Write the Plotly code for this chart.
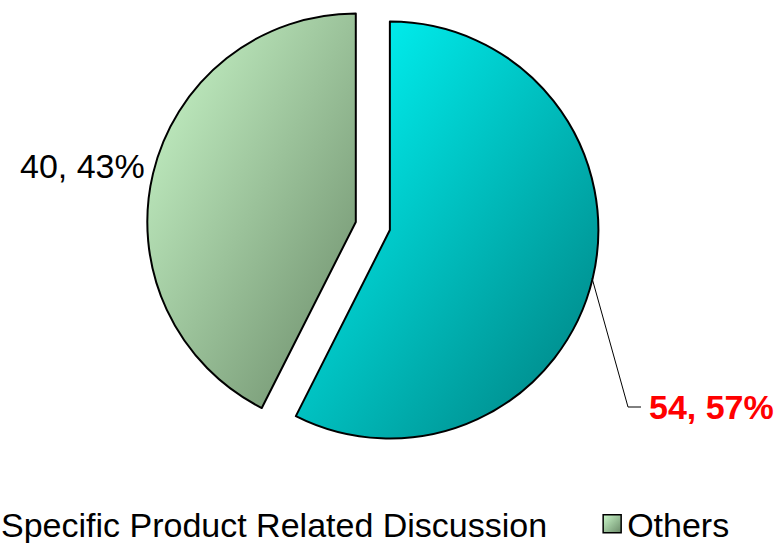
import plotly.graph_objects as go

# ---- data ----
labels = ["Specific Product Related Discussion", "Others"]
values = [54, 40]
slice_colors = ["#00C4C4", "#9CC49A"]          # solid fallbacks
grad_start = ["#00FFFF", "#CCFACC"]
grad_end = ["#007E7E", "#6A8A68"]
label_colors = ["#FF0000", "#000000"]
label_bold = [True, False]

total = sum(values)
pcts = [round(100 * v / total) for v in values]
label_texts = [f"{v}, {p}%" for v, p in zip(values, pcts)]

# ---- layout constants ----
W, H = 780, 543
MB = 60
GH = H - MB
FONT = "Liberation Sans, Arial, sans-serif"


def px(x):
    return x / W


def py(y):
    return 1 - y / GH


fig = go.Figure(
    go.Pie(
        labels=labels,
        values=values,
        sort=False,
        direction="clockwise",
        rotation=0,
        pull=[0.084, 0.084],
        marker=dict(colors=slice_colors, line=dict(color="#000000", width=2)),
        textinfo="none",
        hoverinfo="label+value+percent",
        domain=dict(x=[0.178, 0.778], y=[1 - 452 / GH, 1]),
    )
)

annotations = [
    dict(
        text=f"<b>{label_texts[0]}</b>" if label_bold[0] else label_texts[0],
        x=px(647), y=py(407), xref="paper", yref="paper",
        xanchor="left", yanchor="middle", showarrow=False,
        font=dict(family=FONT, size=34, color=label_colors[0]),
    ),
    dict(
        text=f"<b>{label_texts[1]}</b>" if label_bold[1] else label_texts[1],
        x=px(147), y=py(166), xref="paper", yref="paper",
        xanchor="right", yanchor="middle", showarrow=False,
        font=dict(family=FONT, size=34, color=label_colors[1]),
    ),
]

leader = dict(
    type="path", xref="paper", yref="paper",
    path=f"M {px(592)},{py(278)} L {px(628)},{py(407)} L {px(641)},{py(407)}",
    line=dict(color="#000000", width=1),
)

fig.update_layout(
    width=W,
    height=H,
    margin=dict(l=0, r=0, t=0, b=MB, autoexpand=False),
    paper_bgcolor="#FFFFFF",
    plot_bgcolor="#FFFFFF",
    font=dict(family=FONT, size=34, color="#000000"),
    showlegend=True,
    legend=dict(
        orientation="h",
        x=-39 / W, xanchor="left",
        y=-0.025, yanchor="top",
        font=dict(family=FONT, size=34, color="#000000"),
        bgcolor="rgba(0,0,0,0)",
        itemwidth=30,
    ),
    annotations=annotations,
    shapes=[leader],
)

post_js = """
var gd = document.getElementById('{plot_id}');
var NS = 'http://www.w3.org/2000/svg';
var svg = gd.querySelector('svg.main-svg');
var defs = svg.querySelector('defs');
if(!defs){ defs = document.createElementNS(NS, 'defs'); svg.insertBefore(defs, svg.firstChild); }
var starts = %s, ends = %s;
var ids = [];
for (var k = 0; k < starts.length; k++) {
  var g = document.createElementNS(NS, 'linearGradient');
  var id = 'slicegrad' + k;
  g.setAttribute('id', id);
  g.setAttribute('x1', '0'); g.setAttribute('y1', '0');
  g.setAttribute('x2', '1'); g.setAttribute('y2', '1');
  var s0 = document.createElementNS(NS, 'stop');
  s0.setAttribute('offset', '0'); s0.setAttribute('stop-color', starts[k]);
  var s1 = document.createElementNS(NS, 'stop');
  s1.setAttribute('offset', '1'); s1.setAttribute('stop-color', ends[k]);
  g.appendChild(s0); g.appendChild(s1);
  defs.appendChild(g);
  ids.push(id);
}
gd.querySelectorAll('g.slice path.surface').forEach(function(p, i){
  if (ids[i]) p.style.fill = 'url(#' + ids[i] + ')';
});
gd.querySelectorAll('g.legend g.traces').forEach(function(it, i){
  var sym = it.querySelector('path.legendpie');
  if (sym) {
    if (ids[i]) sym.style.fill = 'url(#' + ids[i] + ')';
    sym.setAttribute('transform', 'translate(25,0) scale(1.5)');
    sym.style.strokeWidth = '1px';
  }
  if (i === 1) {
    var t = it.getAttribute('transform') || '';
    var m = /translate\\(([-\\d.]+)[ ,]*([-\\d.]*)\\)/.exec(t);
    if (m) {
      var x = parseFloat(m[1]) + 35, y = parseFloat(m[2] || '0');
      it.setAttribute('transform', 'translate(' + x + ',' + y + ')');
    }
  }
});
var sb = gd.querySelector('g.legend g.scrollbox');
if (sb) sb.removeAttribute('clip-path');
""" % (str(grad_start).replace("'", '"'), str(grad_end).replace("'", '"'))

fig.write_html("out.html", post_script=post_js)
